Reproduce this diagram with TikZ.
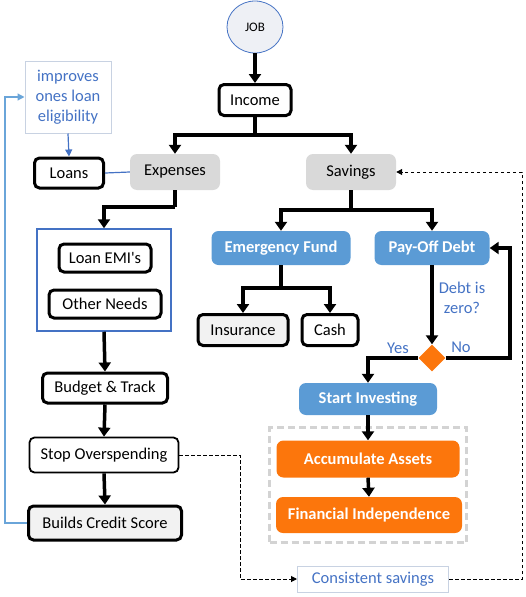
\documentclass[tikz,border=0pt]{standalone}
\usepackage{fontspec}
\setmainfont{Carlito}
\usetikzlibrary{arrows.meta,shapes.geometric}
\definecolor{boxblue}{HTML}{5B9BD5}
\definecolor{textblue}{HTML}{4472C4}
\definecolor{orangebox}{RGB}{252,118,12}
\definecolor{grayfill}{HTML}{D9D9D9}
\definecolor{lightfill}{HTML}{F2F2F2}
\definecolor{lightborder}{HTML}{C8D2E2}
\definecolor{dashgray}{HTML}{D3D3D3}
\definecolor{jobfill}{HTML}{EEF0F5}
\definecolor{blueline}{HTML}{6AA5D9}
\begin{document}
\begin{tikzpicture}[x=1pt,y=-1pt,
  every node/.style={inner sep=0pt, align=center, font=\fontsize{16.5}{20}\selectfont},
  blk/.style={draw=black, line width=3pt, rounded corners=5pt, fill=white},
  thinblk/.style={draw=black, line width=1.8pt, rounded corners=5pt, fill=white},
  graybox/.style={fill=grayfill, rounded corners=7pt},
  bluebox/.style={fill=boxblue, rounded corners=7pt, text=white, font=\fontsize{16.5}{20}\selectfont\bfseries},
  orbox/.style={fill=orangebox, rounded corners=7pt, text=white, font=\fontsize{16.5}{20}\selectfont\bfseries},
  note/.style={draw=lightborder, line width=1pt, text=textblue},
  bluetext/.style={text=textblue},
  arr/.style={line width=3.5pt, -{Triangle[width=12pt,length=9pt]}},
  thick line/.style={line width=3.5pt},
  bluearr/.style={draw=blueline, line width=1.2pt, -{Triangle[width=7pt,length=7pt]}},
  dasharr/.style={line width=1pt, dash pattern=on 3.5pt off 2.5pt, -{Triangle[width=6pt,length=6pt]}}
]
\useasboundingbox (0,0) rectangle (525,597);

% nodes
\node[ellipse, draw=textblue, line width=0.8pt, fill=jobfill, minimum width=56pt, minimum height=52pt, font=\fontsize{13}{15}\selectfont] (job) at (255,27) {JOB};
\node[blk, minimum width=72pt, minimum height=31pt] (income) at (255,100) {Income};
\node[blk, minimum width=69pt, minimum height=30pt] (loans) at (69,173) {Loans};
\node[graybox, minimum width=90pt, minimum height=36pt] (expenses) at (175,172) {Expenses};
\node[graybox, minimum width=90pt, minimum height=36pt] (savings) at (351,172) {Savings};
\node[note, minimum width=86pt, minimum height=72pt] (improves) at (68,97) {improves\\ones loan\\eligibility};

\node[draw=textblue, line width=1.5pt, minimum width=134pt, minimum height=102pt] (container) at (104,280) {};
\node[blk, minimum width=92pt, minimum height=28pt] (loanemi) at (105,258) {Loan EMI\textquotesingle s};
\node[blk, minimum width=112pt, minimum height=28pt] (otherneeds) at (105,304) {Other Needs};
\node[blk, minimum width=125pt, minimum height=30pt] (budget) at (105,388) {Budget \& Track};
\node[thinblk, minimum width=149pt, minimum height=35pt] (stop) at (104,455) {Stop Overspending};
\node[blk, fill=lightfill, minimum width=153pt, minimum height=34pt] (builds) at (105,523) {Builds Credit Score};

\node[bluebox, minimum width=139pt, minimum height=34pt] (emergency) at (281,248) {Emergency Fund};
\node[bluebox, minimum width=115pt, minimum height=34pt] (payoff) at (432,248) {Pay-Off Debt};
\node[blk, fill=lightfill, minimum width=90pt, minimum height=31pt] (insurance) at (243,330) {Insurance};
\node[blk, minimum width=56pt, minimum height=31pt] (cash) at (330,330) {Cash};
\node[diamond, fill=orangebox, minimum width=27pt, minimum height=27pt] (dec) at (432,358) {};
\node[bluetext] (debtq) at (462,298) {Debt is\\zero?};
\node[bluetext] (yes) at (398,348) {Yes};
\node[bluetext] (no) at (461,347) {No};
\node[bluebox, minimum width=138pt, minimum height=32pt] (start) at (368,399) {Start Investing};
\node[draw=dashgray, line width=2.5pt, dash pattern=on 7pt off 4pt, minimum width=197pt, minimum height=115pt] (invbox) at (368,485) {};
\node[orbox, minimum width=183pt, minimum height=37pt] (accum) at (368,459) {Accumulate Assets};
\node[orbox, minimum width=186pt, minimum height=36pt] (finind) at (369,515) {Financial Independence};
\node[note, minimum width=151pt, minimum height=26pt] (consistent) at (373,579) {Consistent savings};

% coordinates
\coordinate (split1) at (255,135);
\coordinate (e1) at (175,207);
\coordinate (s1) at (351,210);
\coordinate (em1) at (281,288);
\coordinate (no1) at (510,358);
\coordinate (bl) at (5,523);
\coordinate (d1) at (240,455);
\coordinate (d2) at (522,579);

% connectors
\draw[arr] (job.south) -- (income.north);
\draw[thick line] (income.south) -- (split1);
\draw[arr] (split1) -| (expenses.north);
\draw[arr] (split1) -| (savings.north);
\draw[thick line] (expenses.south) -- (e1);
\draw[arr] (e1) -| (container.north);
\draw[arr] (container.south) -- (budget.north);
\draw[arr] (budget.south) -- (stop.north);
\draw[arr] (stop.south) -- (builds.north);
\draw[bluearr] (builds.west) -- (bl) |- (improves.west);
\draw[bluearr, draw=textblue] (improves.south) -- (loans.north);
\draw[draw=textblue, line width=1.2pt] (loans.east) -- (expenses.west);
\draw[thick line] (savings.south) -- (s1);
\draw[arr] (s1) -| (emergency.north);
\draw[arr] (s1) -| (payoff.north);
\draw[thick line] (emergency.south) -- (em1);
\draw[arr] (em1) -| (insurance.north);
\draw[arr] (em1) -| (cash.north);
\draw[arr] (payoff.south) -- (dec.north);
\draw[arr] (dec.east) -- (no1) |- (payoff.east);
\draw[arr] (dec.west) -| (start.north);
\draw[arr] (start.south) -- (accum.north);
\draw[arr] (accum.south) -- (finind.north);
\draw[dasharr] (stop.east) -- (d1) |- (consistent.west);
\draw[dasharr] (consistent.east) -- (d2) |- (savings.east);
\end{tikzpicture}
\end{document}
